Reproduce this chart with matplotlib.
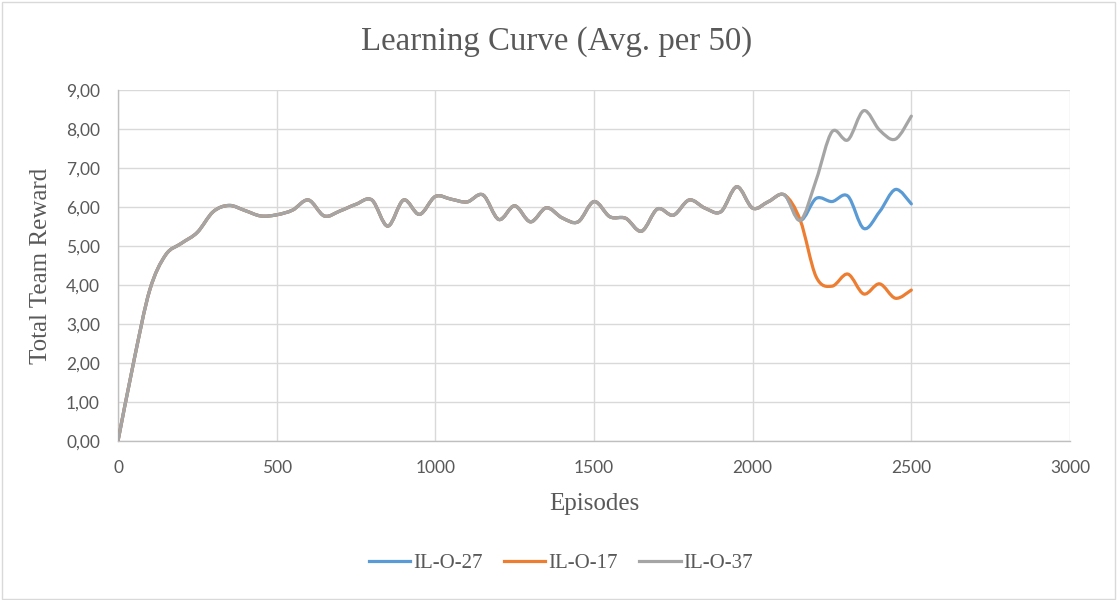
import matplotlib
matplotlib.use("Agg")
import matplotlib.pyplot as plt
from matplotlib.path import Path
from matplotlib.patches import PathPatch, Rectangle
from matplotlib.lines import Line2D
from matplotlib.ticker import FuncFormatter, MultipleLocator

episodes = [0, 50, 100, 150, 200, 250, 300, 350, 400, 450, 500, 550, 600, 650, 700,
            750, 800, 850, 900, 950, 1000, 1050, 1100, 1150, 1200, 1250, 1300, 1350,
            1400, 1450, 1500, 1550, 1600, 1650, 1700, 1750, 1800, 1850, 1900, 1950,
            2000, 2050, 2100, 2150, 2200, 2250, 2300, 2350, 2400, 2450, 2500]

shared = [0.00, 2.05, 3.87, 4.77, 5.07, 5.35, 5.88, 6.04, 5.91, 5.77, 5.80, 5.92, 6.18,
          5.77, 5.90, 6.07, 6.18, 5.51, 6.18, 5.81, 6.27, 6.20, 6.13, 6.31, 5.68, 6.03,
          5.62, 5.98, 5.72, 5.62, 6.14, 5.75, 5.71, 5.38, 5.95, 5.79, 6.18, 5.97, 5.88,
          6.52, 5.97, 6.14, 6.31, 5.66]

il_o_27_tail = [6.22, 6.14, 6.28, 5.45, 5.88, 6.45, 6.08]
il_o_17_tail = [4.21, 3.97, 4.28, 3.77, 4.03, 3.66, 3.87]
il_o_37_tail = [6.69, 7.93, 7.72, 8.47, 7.97, 7.74, 8.33]

series_names = ["IL-O-27", "IL-O-17", "IL-O-37"]
series_values = [shared + il_o_27_tail, shared + il_o_17_tail, shared + il_o_37_tail]
series_colors = ["#5B9BD5", "#ED7D31", "#A5A5A5"]


def smooth_path(xs, ys):
    # Excel-style smoothed line: cubic Bezier through each point
    pts = list(zip(xs, ys))
    n = len(pts)
    verts = [pts[0]]
    codes = [Path.MOVETO]
    for i in range(n - 1):
        p_prev = pts[i - 1] if i > 0 else pts[i]
        p0 = pts[i]
        p1 = pts[i + 1]
        p_next = pts[i + 2] if i + 2 < n else pts[i + 1]
        c1 = (p0[0] + (p1[0] - p_prev[0]) / 6.0, p0[1] + (p1[1] - p_prev[1]) / 6.0)
        c2 = (p1[0] - (p_next[0] - p0[0]) / 6.0, p1[1] - (p_next[1] - p0[1]) / 6.0)
        verts += [c1, c2, p1]
        codes += [Path.CURVE4, Path.CURVE4, Path.CURVE4]
    return Path(verts, codes)


serif = ["Liberation Serif", "DejaVu Serif"]
sans = ["Lato", "DejaVu Sans"]
text_gray = "#595959"

fig = plt.figure(figsize=(11.17, 6.0), dpi=100)
fig.patches.append(Rectangle((0.0015, 0.0025), 0.997, 0.995, transform=fig.transFigure,
                             fill=False, edgecolor="#D9D9D9", linewidth=1.0))

ax = fig.add_axes([118 / 1117, 1 - 441 / 600, (1070 - 118) / 1117, (441 - 90) / 600])
ax.set_xlim(0, 3000)
ax.set_ylim(0, 9)
ax.xaxis.set_major_locator(MultipleLocator(500))
ax.yaxis.set_major_locator(MultipleLocator(1))
ax.yaxis.set_major_formatter(FuncFormatter(lambda v, p: f"{v:.2f}".replace(".", ",")))
ax.grid(True, color="#D9D9D9", linewidth=1.0)
ax.set_axisbelow(True)
for side in ["top", "right"]:
    ax.spines[side].set_visible(False)
for side in ["left", "bottom"]:
    ax.spines[side].set_color("#BFBFBF")
    ax.spines[side].set_linewidth(1.0)
ax.tick_params(axis="both", length=0, colors=text_gray, labelsize=12.5)
ax.tick_params(axis="x", pad=14)
ax.tick_params(axis="y", pad=13)
for lab in ax.get_xticklabels() + ax.get_yticklabels():
    lab.set_family(sans)

handles = []
for name, vals, col in zip(series_names, series_values, series_colors):
    patch = PathPatch(smooth_path(episodes, vals), fill=False, edgecolor=col,
                      linewidth=2.3, capstyle="round", joinstyle="round", zorder=3)
    ax.add_patch(patch)
    handles.append(Line2D([], [], color=col, linewidth=2.3, label=name))

fig.text(557 / 1117, 1 - 42 / 600, "Learning Curve (Avg. per 50)", ha="center", va="center",
         fontsize=23.7, color=text_gray, family=serif)
ax.set_xlabel("Episodes", fontsize=18, color=text_gray, family=serif, labelpad=12)
ax.set_ylabel("Total Team Reward", fontsize=18, color=text_gray, family=serif, labelpad=10)

leg = fig.legend(handles=handles, loc="center", bbox_to_anchor=(561 / 1117, 1 - 563 / 600),
                 ncol=3, frameon=False, prop={"family": serif, "size": 15},
                 handlelength=2.0, handletextpad=0.15, columnspacing=1.0)
for t in leg.get_texts():
    t.set_color(text_gray)

fig.savefig("out.png", dpi=100)
